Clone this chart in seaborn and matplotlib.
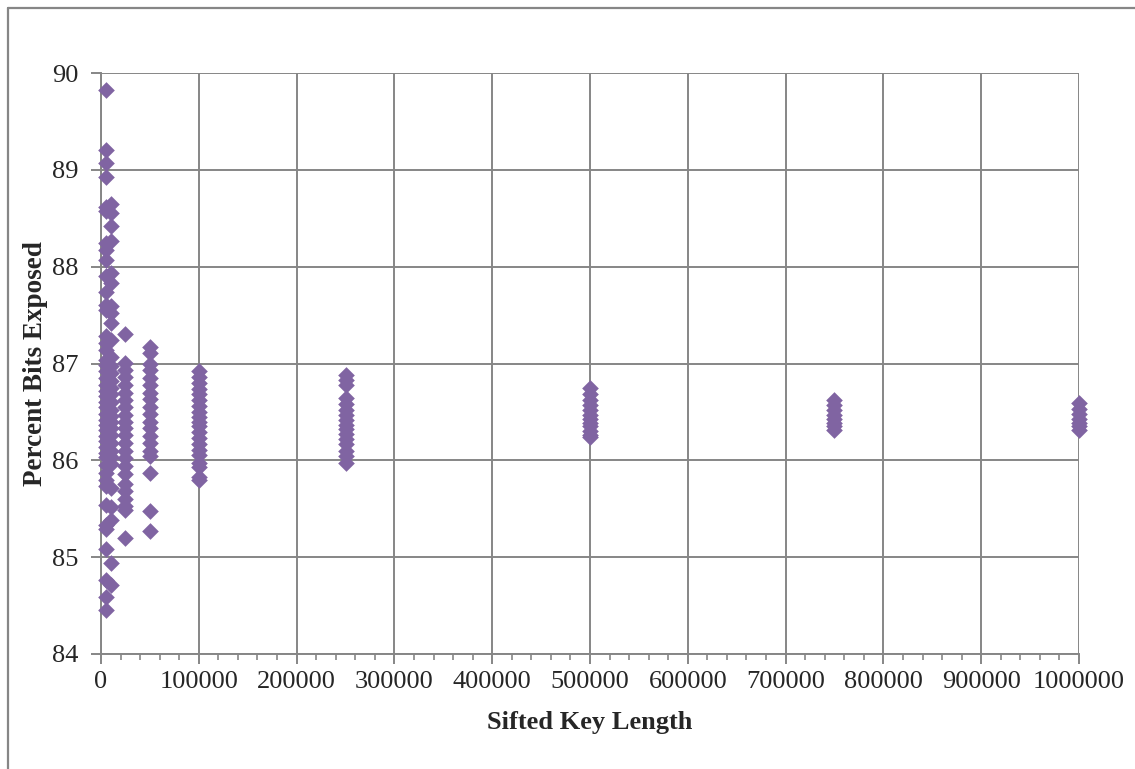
import numpy as np
import pandas as pd
import matplotlib
matplotlib.use("Agg")
import matplotlib.pyplot as plt
import seaborn as sns
from matplotlib.ticker import MultipleLocator, FuncFormatter
from matplotlib.lines import Line2D

# ---- data ----
key_lengths = [5000, 10000, 25000, 50000, 100000, 250000, 500000, 750000, 1000000]
y_5000 = [89.82, 89.20, 89.07, 88.93, 88.62, 88.57, 88.24, 88.17, 88.07, 87.90, 87.74, 87.60,
          87.55, 87.28, 87.21, 87.14, 87.04, 86.98, 86.92, 86.85, 86.78, 86.72, 86.66, 86.60,
          86.55, 86.48, 86.42, 86.37, 86.31, 86.25, 86.20, 86.14, 86.08, 86.03, 85.95, 85.87,
          85.80, 85.73, 85.54, 85.33, 85.29, 85.08, 84.76, 84.59, 84.45]
y_10000 = [88.65, 88.55, 88.42, 88.26, 87.93, 87.83, 87.59, 87.52, 87.42, 87.24, 87.07, 86.97,
           86.90, 86.82, 86.75, 86.68, 86.60, 86.52, 86.46, 86.40, 86.33, 86.26, 86.18, 86.10,
           86.03, 85.96, 85.71, 85.52, 85.38, 84.94, 84.71]
y_25000 = [87.30, 87.01, 86.93, 86.86, 86.78, 86.70, 86.62, 86.55, 86.47, 86.40, 86.33, 86.26,
           86.18, 86.10, 86.02, 85.94, 85.86, 85.76, 85.68, 85.60, 85.53, 85.49, 85.20]
y_50000 = [87.17, 87.11, 87.00, 86.93, 86.85, 86.78, 86.70, 86.63, 86.55, 86.48, 86.40, 86.33,
           86.25, 86.18, 86.10, 86.04, 85.87, 85.48, 85.27]
y_100000 = [86.92, 86.86, 86.80, 86.74, 86.68, 86.62, 86.56, 86.50, 86.45, 86.40, 86.35, 86.29,
            86.23, 86.17, 86.11, 86.05, 85.97, 85.93, 85.83, 85.80]
y_250000 = [86.88, 86.83, 86.78, 86.64, 86.58, 86.52, 86.47, 86.42, 86.37, 86.32, 86.27, 86.22,
            86.17, 86.10, 86.04, 85.97]
y_500000 = [86.75, 86.68, 86.62, 86.57, 86.52, 86.47, 86.43, 86.39, 86.35, 86.30, 86.26, 86.24]
y_750000 = [86.62, 86.57, 86.52, 86.47, 86.43, 86.39, 86.35, 86.31]
y_1000000 = [86.59, 86.53, 86.48, 86.43, 86.39, 86.35, 86.31]

groups = [y_5000, y_10000, y_25000, y_50000, y_100000, y_250000, y_500000, y_750000, y_1000000]
xs, ys = [], []
for k, vals in zip(key_lengths, groups):
    xs += [k] * len(vals)
    ys += vals
df = pd.DataFrame({"Sifted Key Length": xs, "Percent Bits Exposed": ys})

# ---- style ----
sns.set_style("white")
plt.rcParams["font.family"] = ["Liberation Serif", "DejaVu Serif"]

GRID = "#868686"
PURPLE = "#8064A2"

fig = plt.figure(figsize=(11.35, 7.69), dpi=100)
ax = fig.add_axes([101 / 1135, 1 - 654 / 769, (1079 - 101) / 1135, (654 - 73) / 769])

sns.scatterplot(data=df, x="Sifted Key Length", y="Percent Bits Exposed", ax=ax,
                marker="D", color=PURPLE, s=72, linewidth=0, zorder=3, clip_on=False)

ax.set_xlim(0, 1000000)
ax.set_ylim(84, 90)
ax.xaxis.set_major_locator(MultipleLocator(100000))
ax.xaxis.set_minor_locator(MultipleLocator(20000))
ax.yaxis.set_major_locator(MultipleLocator(1))
ax.xaxis.set_major_formatter(FuncFormatter(lambda v, p: f"{int(round(v))}"))
ax.yaxis.set_major_formatter(FuncFormatter(lambda v, p: f"{int(round(v))}"))

ax.grid(True, which="major", color=GRID, linewidth=1.4, zorder=0)
ax.set_axisbelow(True)
for s in ["top", "right"]:
    ax.spines[s].set_visible(False)
for s in ["left", "bottom"]:
    ax.spines[s].set_color(GRID)
    ax.spines[s].set_linewidth(1.4)

ax.tick_params(axis="x", which="major", direction="out", length=7, width=1.4, color=GRID,
               labelsize=19, pad=5, bottom=True)
ax.tick_params(axis="x", which="minor", direction="out", length=4, width=1.2, color=GRID, bottom=True)
ax.tick_params(axis="y", which="major", direction="out", length=7, width=1.4, color=GRID,
               labelsize=19, pad=9, left=True)

ax.set_xlabel("Sifted Key Length", fontsize=19, fontweight="bold", labelpad=13)
ax.set_ylabel("Percent Bits Exposed", fontsize=19.5, fontweight="bold", labelpad=3)

# outer chart-area border (left and top visible)
fig.add_artist(Line2D([8 / 1135, 8 / 1135], [0, 1 - 8 / 769], transform=fig.transFigure,
                      color=GRID, linewidth=1.6))
fig.add_artist(Line2D([8 / 1135, 1], [1 - 8 / 769, 1 - 8 / 769], transform=fig.transFigure,
                      color=GRID, linewidth=1.6))

fig.savefig("out.png", dpi=100)
